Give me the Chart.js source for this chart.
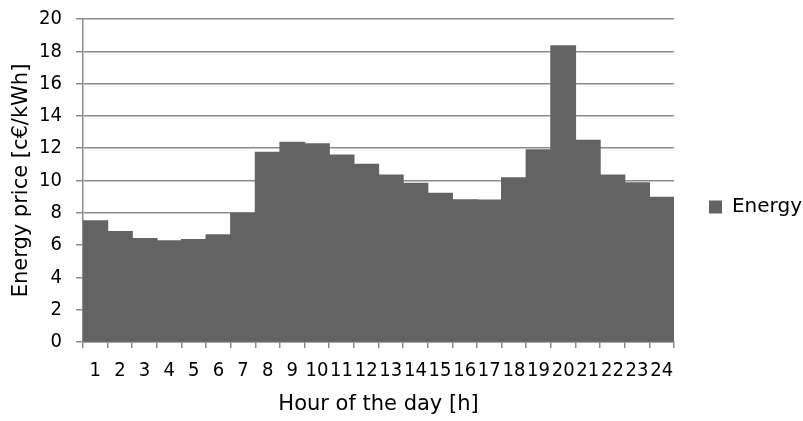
<!DOCTYPE html>
<html>
<head>
<meta charset="utf-8">
<script src="https://cdn.jsdelivr.net/npm/chart.js@4"></script>
<style>
  html, body { margin: 0; padding: 0; background: #fff; }
  #chart { display: block; }
</style>
</head>
<body>
<canvas id="chart" width="803" height="421"></canvas>
<script>
// hourly energy price, one bar per hour
const hours = ['1','2','3','4','5','6','7','8','9','10','11','12','13','14','15','16','17','18','19','20','21','22','23','24'];
const energyPrice = [7.5, 6.84, 6.40, 6.26, 6.34, 6.63, 7.97, 11.74, 12.36, 12.27, 11.58, 11.0,
                     10.34, 9.83, 9.21, 8.8, 8.78, 10.17, 11.9, 18.33, 12.48, 10.34, 9.86, 8.96];
const yMin = 0, yMax = 20, yStep = 2;

const gridGray = '#8a8a8a';
const tickFamily = "'DejaVu Sans Condensed', 'DejaVu Sans'";
const titleFont = { family: "'DejaVu Sans'", size: 21 };

new Chart(document.getElementById('chart'), {
    type: 'bar',
    data: {
        labels: hours,
        datasets: [{
            label: 'Energy',
            data: energyPrice,
            backgroundColor: '#636363',
            borderWidth: 0,
            inflateAmount: 0.6,   // closes the hairline seams between touching bars
            barPercentage: 1,
            categoryPercentage: 1
        }]
    },
    options: {
        responsive: false,
        animation: false,
        devicePixelRatio: 1,
        // bottom padding only lifts the legend; the x axis title is pushed back down below
        layout: { padding: { top: 15, right: -9, bottom: 22, left: 0 } },
        plugins: {
            tooltip: { enabled: false },
            legend: {
                position: 'right',
                labels: {
                    boxWidth: 13,
                    boxHeight: 13,
                    padding: 35,
                    color: '#000',
                    font: { family: "'DejaVu Sans'", size: 20 }
                }
            }
        },
        scales: {
            x: {
                offset: true,
                grid: {
                    offset: true,
                    drawOnChartArea: false,
                    tickLength: 6,
                    color: gridGray,
                    lineWidth: 1.5
                },
                border: { color: gridGray, width: 1.5 },
                ticks: {
                    autoSkip: false,
                    maxRotation: 0,
                    minRotation: 0,
                    padding: 11,
                    color: '#000',
                    font: { family: tickFamily, size: 20 }
                },
                title: {
                    display: true,
                    text: 'Hour of the day [h]',
                    color: '#000',
                    font: titleFont,
                    padding: { top: 0, bottom: -18 }
                },
                afterFit: (scale) => { scale.height = 57; }
            },
            y: {
                min: yMin,
                max: yMax,
                grid: {
                    color: gridGray,
                    lineWidth: 1.5,
                    tickLength: 7
                },
                border: { color: gridGray, width: 1.5 },
                ticks: {
                    stepSize: yStep,
                    padding: 14,
                    color: '#000',
                    // short line height keeps the top label from pushing the plot down
                    font: { family: tickFamily, size: 20, lineHeight: 0.5 }
                },
                title: {
                    display: true,
                    text: 'Energy price [c€/kWh]',
                    color: '#000',
                    font: titleFont,
                    padding: { top: 9, bottom: 0 }
                },
                afterFit: (scale) => { scale.width = 83; }
            }
        }
    }
});
</script>
</body>
</html>
